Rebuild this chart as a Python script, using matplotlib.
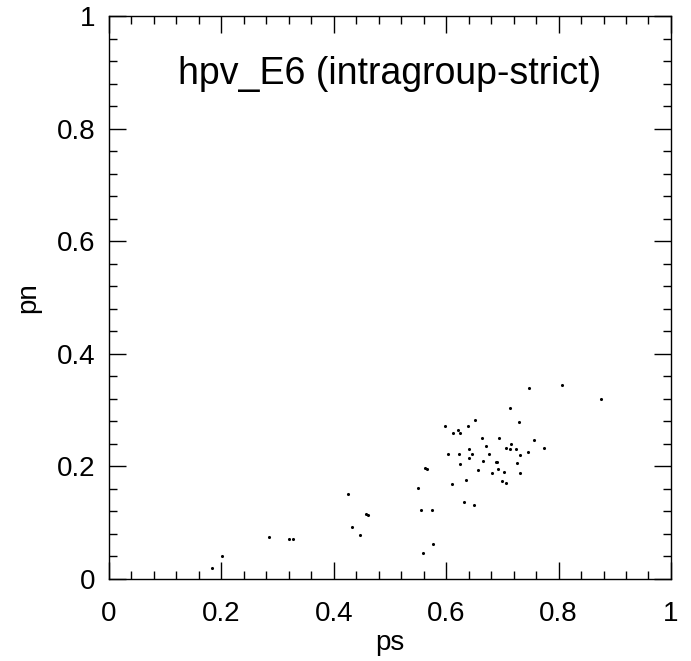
import matplotlib
matplotlib.use("Agg")
import matplotlib.pyplot as plt
from matplotlib.ticker import MultipleLocator, FuncFormatter

ps = [0.184, 0.201, 0.285, 0.321, 0.327, 0.425, 0.432, 0.446, 0.457, 0.461,
      0.550, 0.562, 0.566, 0.555, 0.574, 0.576, 0.558,
      0.747, 0.806, 0.875, 0.714, 0.652, 0.729, 0.598, 0.638, 0.621, 0.612,
      0.625, 0.663, 0.694, 0.757, 0.671, 0.716, 0.706, 0.713, 0.725, 0.774,
      0.641, 0.746, 0.604, 0.622, 0.646, 0.677, 0.732, 0.640, 0.666, 0.688,
      0.690, 0.625, 0.726, 0.692, 0.656, 0.682, 0.703, 0.732, 0.635, 0.700,
      0.706, 0.610, 0.631, 0.649]
pn = [0.019, 0.040, 0.074, 0.071, 0.071, 0.151, 0.093, 0.078, 0.115, 0.113,
      0.162, 0.198, 0.196, 0.122, 0.123, 0.062, 0.047,
      0.340, 0.344, 0.320, 0.304, 0.282, 0.278, 0.271, 0.271, 0.264, 0.259,
      0.259, 0.251, 0.251, 0.247, 0.237, 0.239, 0.233, 0.231, 0.231, 0.233,
      0.230, 0.226, 0.222, 0.222, 0.222, 0.222, 0.220, 0.215, 0.209, 0.207,
      0.207, 0.205, 0.206, 0.195, 0.193, 0.188, 0.190, 0.189, 0.176, 0.174,
      0.170, 0.169, 0.136, 0.132]
title = "hpv_E6 (intragroup-strict)"
xlabel = "ps"
ylabel = "pn"

plt.rcParams['font.family'] = ['Liberation Sans', 'DejaVu Sans']

fig = plt.figure(figsize=(6.91, 6.61), dpi=100)
ax = fig.add_axes([0.1577, 0.1241, 0.8133, 0.8517])
ax.scatter(ps, pn, s=5, c='black', marker='o', linewidths=0)
ax.set_xlim(0, 1)
ax.set_ylim(0, 1)

fmt = FuncFormatter(lambda v, p: "0" if abs(v) < 1e-9 else ("1" if abs(v - 1) < 1e-9 else f"{v:.1f}"))
for axis in (ax.xaxis, ax.yaxis):
    axis.set_major_locator(MultipleLocator(0.2))
    axis.set_minor_locator(MultipleLocator(0.04))
    axis.set_major_formatter(fmt)
ax.tick_params(which='both', direction='in', top=True, right=True, color='black', width=1)
ax.tick_params(which='major', length=12, labelsize=20)
ax.tick_params(which='minor', length=6)
ax.tick_params(axis='x', which='major', pad=16)
ax.tick_params(axis='y', which='major', pad=10)
for s in ax.spines.values():
    s.set_linewidth(1)

ax.text(0.5, 0.897, title, fontsize=27, ha='center', va='center', transform=ax.transAxes)
ax.set_xlabel(xlabel, fontsize=20, va='baseline')
ax.xaxis.set_label_coords(0.5644, 0.0166, transform=fig.transFigure)
ax.set_ylabel(ylabel, fontsize=20, va='center')
ax.yaxis.set_label_coords(0.0405, 0.549, transform=fig.transFigure)

fig.savefig("out.png", dpi=100)
